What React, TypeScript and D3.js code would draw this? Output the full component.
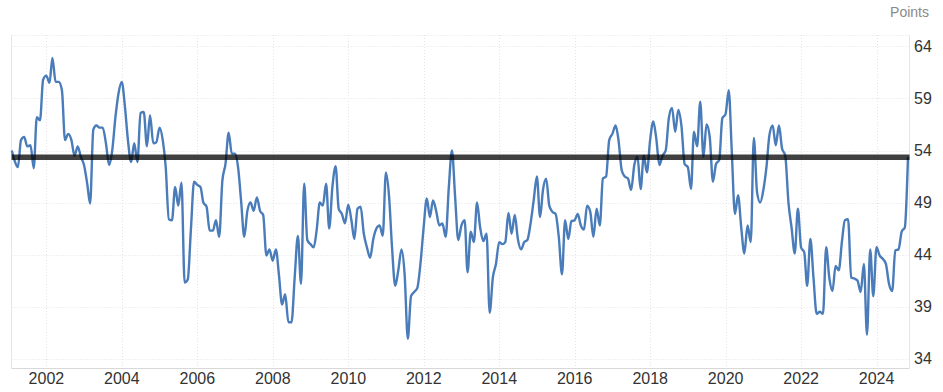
import React, { useEffect, useRef } from 'react';
import * as d3 from 'd3';

// monthly readings, Jan 2001 .. Oct 2024 (one row per year)
const startYear = 2001;
const monthlyValues = [
  54.0, 53.0, 52.4, 55.0, 55.3, 54.4, 54.5, 52.3, 57.2, 56.9, 60.8, 61.2,
  60.5, 62.9, 60.6, 60.6, 59.8, 55.0, 55.6, 55.0, 53.5, 54.4, 53.4, 52.6,
  50.8, 48.9, 56.0, 56.4, 56.2, 56.2, 54.7, 52.6, 54.0, 57.2, 59.5, 60.6,
  58.2, 55.0, 52.9, 54.7, 52.9, 57.6, 57.7, 54.4, 57.4, 54.7, 54.8, 56.2,
  55.0, 52.5, 47.4, 47.3, 50.5, 48.7, 50.9, 41.3, 41.6, 46.5, 51.0, 50.7,
  50.5, 49.0, 48.6, 46.3, 46.3, 47.3, 45.7, 51.1, 52.7, 55.7, 53.7, 53.7,
  52.3, 49.2, 45.7, 48.2, 49.0, 48.2, 49.5, 48.2, 47.8, 43.9, 44.5, 43.4,
  44.5, 42.1, 39.2, 40.2, 37.5, 37.5, 41.8, 45.8, 41.2, 50.8, 45.4, 45.0,
  44.7, 46.3, 49.0, 48.7, 50.8, 46.5, 50.5, 52.5, 48.4, 47.9, 47.0, 48.8,
  47.3, 45.5, 48.4, 48.6, 46.0, 44.7, 43.7, 45.5, 46.5, 46.8, 45.8, 51.9,
  49.5, 44.7, 41.0, 42.5, 44.5, 42.1, 35.9, 40.0, 40.4, 40.8, 43.1, 46.6,
  49.4, 47.6, 49.2, 48.2, 46.8, 47.0, 45.7, 50.5, 54.0, 49.5, 45.4, 46.8,
  47.3, 42.3, 46.2, 45.2, 49.0, 46.6, 45.3, 46.0, 38.4, 41.8, 43.1, 45.2,
  45.0, 45.2, 48.0, 46.0, 47.8, 45.5, 44.5, 45.2, 45.4, 47.0, 49.2, 51.5,
  47.6, 50.2, 51.3, 48.7, 48.1, 47.9, 45.7, 42.1, 47.3, 45.5, 47.2, 47.3,
  47.9, 46.8, 46.4, 48.7, 48.1, 45.7, 48.4, 46.8, 51.3, 51.5, 55.0, 55.6,
  56.4, 55.0, 52.1, 51.5, 51.3, 50.2, 52.6, 53.4, 50.3, 53.5, 51.9, 55.0,
  56.8, 55.2, 52.6, 53.5, 54.0, 57.1, 58.1, 55.8, 57.9, 56.3, 52.7, 52.4,
  50.3, 55.8, 54.4, 58.7, 53.4, 56.5, 55.3, 51.0, 52.7, 53.1, 57.1, 57.5,
  59.8, 54.0, 47.9, 49.7, 46.6, 44.1, 46.8, 45.2, 55.2, 50.0, 49.0, 50.2,
  52.5, 55.5, 56.4, 54.5, 56.4, 54.2, 53.5, 49.0, 46.6, 44.1, 48.4, 44.7,
  44.2, 41.0, 45.5, 41.8, 38.3, 38.5, 38.3, 44.7, 41.8, 40.5, 42.9, 42.5,
  45.3, 47.3, 47.4, 41.8, 41.7, 41.5, 40.4, 43.1, 36.3, 44.5, 40.0, 44.7,
  43.9, 43.6, 43.1, 41.2, 40.5, 44.4, 44.5, 46.2, 46.6, 53.4,
];

const yTicks = [34, 39, 44, 49, 54, 59, 64];
const xTickYears = [2002, 2004, 2006, 2008, 2010, 2012, 2014, 2016, 2018, 2020, 2022, 2024];
const referenceLevel = 53.35;
const unitLabel = 'Points';

const App = () => {
  const svgRef = useRef<SVGSVGElement>(null);

  useEffect(() => {
    const width = 943;
    const height = 392;
    const plot = { left: 11.5, right: 909.5, top: 35, bottom: 368.5 };
    const font = '"Liberation Sans", Arial, sans-serif';

    const svg = d3.select(svgRef.current)
      .attr('width', width)
      .attr('height', height);
    svg.selectAll('*').remove();

    const points = monthlyValues.map((v, i) => ({
      date: new Date(startYear, i + 1, 0),
      value: v,
    }));

    // scales
    const x = d3.scaleTime()
      .domain([points[0].date, points[points.length - 1].date])
      .range([11.8, 908]);

    const y = d3.scaleLinear()
      .domain([33.1, 65.1])
      .range([368, 35]);

    // grid
    const grid = svg.append('g')
      .attr('stroke', '#e3e3e3')
      .attr('stroke-width', 1)
      .attr('stroke-dasharray', '1,2');

    grid.selectAll('line.h')
      .data([...yTicks, 65.1])
      .join('line')
      .attr('class', 'h')
      .attr('x1', plot.left)
      .attr('x2', plot.right)
      .attr('y1', d => Math.round(y(d)) + 0.5)
      .attr('y2', d => Math.round(y(d)) + 0.5);

    grid.selectAll('line.v')
      .data(xTickYears)
      .join('line')
      .attr('class', 'v')
      .attr('x1', d => Math.round(x(new Date(d, 0, 1))) + 0.5)
      .attr('x2', d => Math.round(x(new Date(d, 0, 1))) + 0.5)
      .attr('y1', plot.top)
      .attr('y2', plot.bottom);

    // frame
    svg.append('line')
      .attr('x1', plot.left).attr('x2', plot.left)
      .attr('y1', plot.top).attr('y2', plot.bottom)
      .attr('stroke', '#e6e6e6');
    svg.append('line')
      .attr('x1', plot.right).attr('x2', plot.right)
      .attr('y1', plot.top).attr('y2', plot.bottom)
      .attr('stroke', '#e6e6e6');
    svg.append('line')
      .attr('x1', plot.left).attr('x2', plot.right)
      .attr('y1', plot.bottom).attr('y2', plot.bottom)
      .attr('stroke', '#d8d8d8');

    // axis labels
    svg.append('g')
      .selectAll('text')
      .data(yTicks)
      .join('text')
      .attr('x', 914)
      .attr('y', d => y(d))
      .attr('dy', '0.36em')
      .attr('text-anchor', 'start')
      .style('font-family', font)
      .style('font-size', '16px')
      .style('fill', '#333333')
      .text(d => d);

    svg.append('g')
      .selectAll('text')
      .data(xTickYears)
      .join('text')
      .attr('x', d => x(new Date(d, 0, 1)))
      .attr('y', 384)
      .attr('text-anchor', 'middle')
      .style('font-family', font)
      .style('font-size', '16px')
      .style('fill', '#333333')
      .text(d => d);

    svg.append('text')
      .attr('x', 929)
      .attr('y', 17)
      .attr('text-anchor', 'end')
      .style('font-family', font)
      .style('font-size', '14px')
      .style('fill', '#8a8a8a')
      .text(unitLabel);

    // series
    const line = d3.line<{ date: Date; value: number }>()
      .x(d => x(d.date))
      .y(d => y(d.value))
      .curve(d3.curveMonotoneX);

    svg.append('path')
      .datum(points)
      .attr('fill', 'none')
      .attr('stroke', '#4a7cba')
      .attr('stroke-width', 2.4)
      .attr('stroke-linejoin', 'round')
      .attr('d', line);

    // reference level
    svg.append('line')
      .attr('x1', plot.left)
      .attr('x2', plot.right)
      .attr('y1', y(referenceLevel))
      .attr('y2', y(referenceLevel))
      .attr('stroke', '#000000')
      .attr('stroke-opacity', 0.75)
      .attr('stroke-width', 5.5);
  }, []);

  return (
    <svg ref={svgRef} style={{ position: 'absolute', left: 0, top: 0 }}></svg>
  );
};

export default App;
